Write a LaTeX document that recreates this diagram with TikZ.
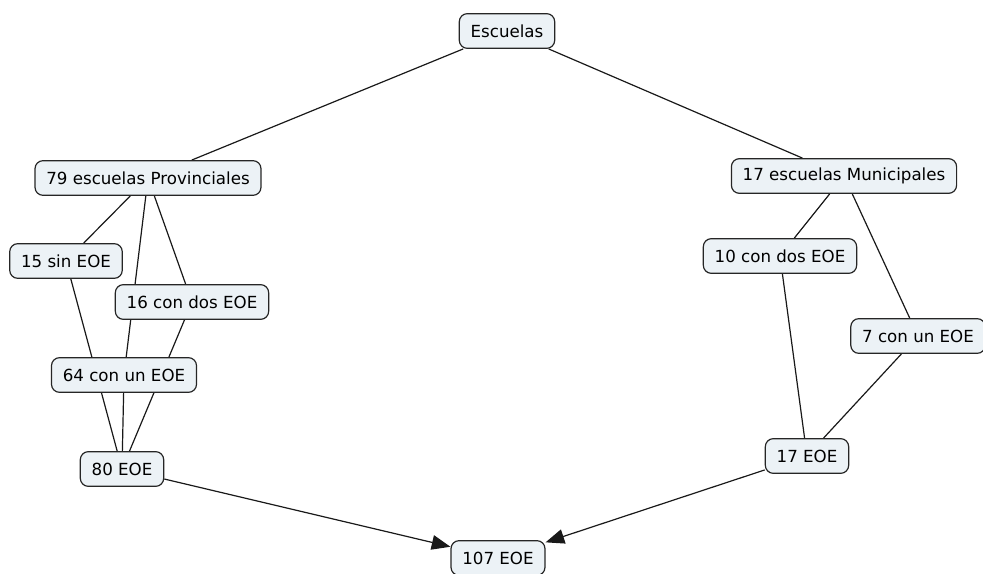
\documentclass[tikz,border=0pt]{standalone}
\usepackage{fontspec}
\setmainfont{DejaVu Sans}
\usepackage{tikz}
\usetikzlibrary{arrows.meta}
\usetikzlibrary{backgrounds}
\definecolor{boxfill}{RGB}{236,242,246}
\tikzset{concept/.style={draw=black!85,fill=boxfill,rounded corners=6pt,
                         line width=0.9pt,minimum height=26pt,inner xsep=8.5pt,
                         font=\fontsize{12.5}{14}\selectfont},
         link/.style={line width=0.9pt,black!90},
         linkarrow/.style={link,-{Triangle[length=14pt,width=11pt]}}}

\begin{document}
\begin{tikzpicture}[x=0.75pt,y=-0.75pt]
\useasboundingbox (0,0) rectangle (983,574);
\node[concept] (esc) at (507,31) {Escuelas};
\node[concept] (prov) at (148,178) {79 escuelas Provinciales};
\node[concept] (mun) at (844,176) {17 escuelas Municipales};
\node[concept] (sin) at (66,261) {15 sin EOE};
\node[concept] (pdos) at (192,302) {16 con dos EOE};
\node[concept] (pun) at (124,375) {64 con un EOE};
\node[concept] (ochenta) at (122,469) {80 EOE};
\node[concept] (mdos) at (780,256) {10 con dos EOE};
\node[concept] (mun7) at (918,336) {7 con un EOE};
\node[concept] (diecisiete) at (807,456) {17 EOE};
\node[concept] (total) at (498,558) {107 EOE};
\begin{pgfonlayer}{background}
% provinciales
\draw[link] (esc)--(prov);
\draw[link] (prov)--(sin);
\draw[link] (prov)--(pdos);
\draw[link] (prov)--(pun);
\draw[link] (sin)--(ochenta);
\draw[link] (pdos)--(ochenta);
\draw[link] (pun)--(ochenta);
% municipales
\draw[link] (esc)--(mun);
\draw[link] (mun)--(mdos);
\draw[link] (mun)--(mun7);
\draw[link] (mdos)--(diecisiete);
\draw[link] (mun7)--(diecisiete);
\end{pgfonlayer}
\draw[linkarrow] (ochenta)--(total);
\draw[linkarrow] (diecisiete)--(total);
\end{tikzpicture}
\end{document}
